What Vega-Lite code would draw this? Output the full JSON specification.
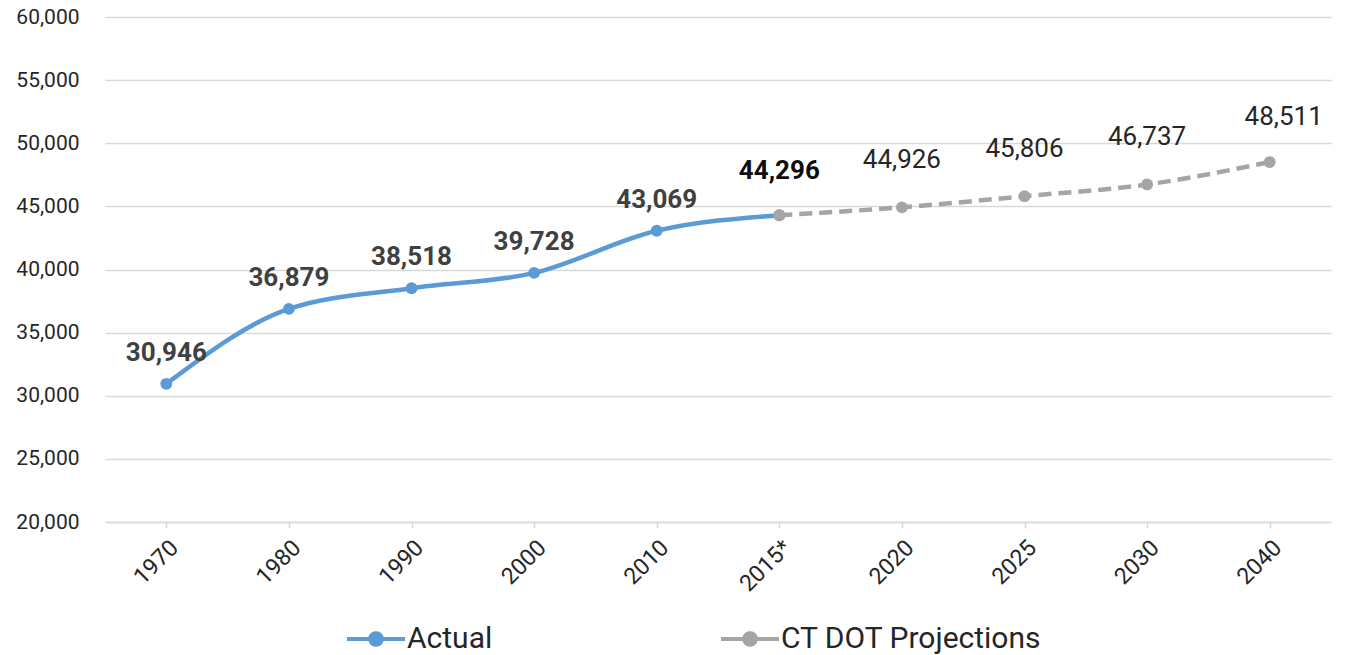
{
  "$schema": "https://vega.github.io/schema/vega-lite/v6.json",
  "autosize": {"type": "none"},
  "width": 1226,
  "height": 505,
  "padding": {"left": 105, "top": 17, "right": 15, "bottom": 133},
  "background": "white",
  "config": {"view": {"stroke": null}, "font": "Roboto"},
  "data": {
    "values": [
      {"year": "1970", "value": 30946, "series": "Actual"},
      {"year": "1980", "value": 36879, "series": "Actual"},
      {"year": "1990", "value": 38518, "series": "Actual"},
      {"year": "2000", "value": 39728, "series": "Actual"},
      {"year": "2010", "value": 43069, "series": "Actual"},
      {"year": "2015*", "value": 44296, "series": "Actual"},
      {"year": "2015*", "value": 44296, "series": "CT DOT Projections"},
      {"year": "2020", "value": 44926, "series": "CT DOT Projections"},
      {"year": "2025", "value": 45806, "series": "CT DOT Projections"},
      {"year": "2030", "value": 46737, "series": "CT DOT Projections"},
      {"year": "2040", "value": 48511, "series": "CT DOT Projections"}
    ]
  },
  "encoding": {
    "x": {
      "field": "year", "type": "ordinal", "sort": null,
      "scale": {"type": "point", "padding": 0.5},
      "axis": {
        "title": null, "labelAngle": -45, "labelFontSize": 23, "labelColor": "#262626",
        "domainColor": "#D9D9D9", "domainWidth": 1.5, "tickColor": "#D9D9D9", "tickWidth": 1.5,
        "tickSize": 6, "labelPadding": 8, "grid": false
      }
    },
    "y": {
      "field": "value", "type": "quantitative",
      "scale": {"domain": [20000, 60000], "nice": false, "zero": false},
      "axis": {
        "title": null, "values": [20000, 25000, 30000, 35000, 40000, 45000, 50000, 55000, 60000],
        "format": ",.0f", "labelFontSize": 21, "labelColor": "#262626", "domain": false, "ticks": false,
        "labelPadding": 26, "gridColor": "#D9D9D9", "gridWidth": 1.5
      }
    },
    "color": {
      "field": "series", "type": "nominal",
      "scale": {"domain": ["Actual", "CT DOT Projections"], "range": ["#5B9BD5", "#A5A5A5"]},
      "legend": {
        "orient": "none", "legendX": 240, "legendY": 591, "direction": "horizontal", "title": null,
        "labelFontSize": 30, "labelColor": "#262626", "labelOffset": 0, "columnPadding": 220,
        "labelLimit": 500,
        "symbolType": "M -1 0 L 1 0 M 0.2 0 A 0.2 0.2 0 1 1 -0.2 0 A 0.2 0.2 0 1 1 0.2 0",
        "symbolSize": 3364, "symbolStrokeWidth": 4, "symbolDash": [1, 0],
        "encode": {"symbols": {"update": {
          "fill": {"scale": "color", "field": "value"},
          "stroke": {"scale": "color", "field": "value"},
          "strokeDash": {"value": [1, 0]}
        }}}
      }
    }
  },
  "layer": [
    {
      "transform": [{"filter": "datum.series == 'Actual'"}],
      "mark": {"type": "line", "interpolate": "monotone", "strokeWidth": 4.5}
    },
    {
      "transform": [{"filter": "datum.series == 'CT DOT Projections'"}],
      "mark": {"type": "line", "interpolate": "monotone", "strokeWidth": 4.5, "strokeDash": [13, 7]}
    },
    {
      "mark": {"type": "point", "filled": true, "size": 140, "opacity": 1}
    },
    {
      "transform": [{"filter": "datum.series == 'Actual' && datum.year != '2015*'"}],
      "mark": {"type": "text", "fontSize": 26, "fontWeight": "bold", "dy": -31},
      "encoding": {"text": {"field": "value", "type": "quantitative", "format": ",.0f"}, "color": {"value": "#404040"}}
    },
    {
      "transform": [{"filter": "datum.series == 'Actual' && datum.year == '2015*'"}],
      "mark": {"type": "text", "fontSize": 26, "fontWeight": "bold", "dy": -44},
      "encoding": {"text": {"field": "value", "type": "quantitative", "format": ",.0f"}, "color": {"value": "#0D0D0D"}}
    },
    {
      "transform": [{"filter": "datum.series == 'CT DOT Projections' && datum.year != '2015*' && datum.year != '2040'"}],
      "mark": {"type": "text", "fontSize": 26, "dy": -47},
      "encoding": {"text": {"field": "value", "type": "quantitative", "format": ",.0f"}, "color": {"value": "#262626"}}
    },
    {
      "transform": [{"filter": "datum.year == '2040'"}],
      "mark": {"type": "text", "fontSize": 26, "dy": -45, "dx": 14},
      "encoding": {"text": {"field": "value", "type": "quantitative", "format": ",.0f"}, "color": {"value": "#262626"}}
    }
  ]
}
